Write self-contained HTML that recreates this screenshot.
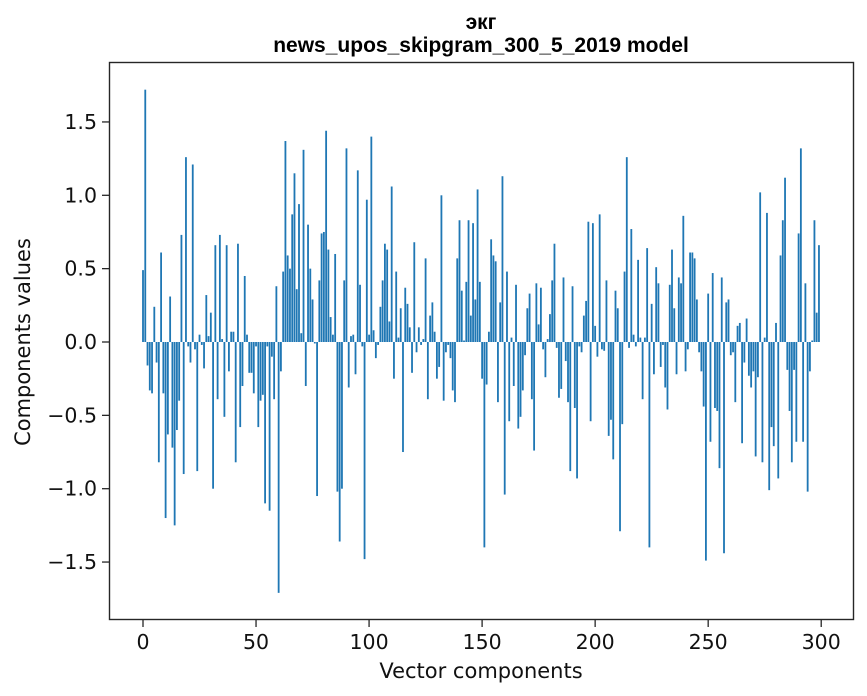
<!DOCTYPE html>
<html><head><meta charset="utf-8"><style>
html,body{margin:0;padding:0;background:#fff;}
svg{display:block;font-family:"DejaVu Sans","Liberation Sans",sans-serif;}
</style></head><body>
<svg id="chart" width="867" height="696" viewBox="0 0 867 696">
<rect x="0" y="0" width="867" height="696" fill="#fff"/>
<text x="481" y="29" text-anchor="middle" font-size="21" font-weight="bold" font-family="Liberation Sans, sans-serif">экг</text>
<text x="481" y="52" text-anchor="middle" font-size="21" font-weight="bold" font-family="Liberation Sans, sans-serif">news_upos_skipgram_300_5_2019 model</text>
<g id="bars"></g>
<g id="xticks"></g>
<g id="yticks"></g>
<rect x="109.5" y="62.5" width="744" height="557" fill="none" stroke="#262626" stroke-width="1.4"/>
<text x="481" y="678" text-anchor="middle" font-size="21" fill="#111">Vector components</text>
<text transform="translate(30,342) rotate(-90)" text-anchor="middle" font-size="21" fill="#111">Components values</text>
</svg>
<script>
const componentValues = [
0.49,1.72,-0.16,-0.33,-0.35,0.24,-0.14,-0.82,0.61,-0.35,
-1.2,-0.63,0.31,-0.72,-1.25,-0.6,-0.4,0.73,-0.9,1.26,
-0.03,-0.14,1.21,-0.05,-0.88,0.05,-0.02,-0.18,0.32,0.04,
0.2,-1.0,0.66,-0.39,0.73,0.02,-0.51,0.66,-0.2,0.07,
0.07,-0.82,0.67,-0.58,-0.3,0.45,0.05,-0.21,-0.21,-0.35,
-0.03,-0.58,-0.4,-0.36,-1.1,-0.03,-1.15,-0.1,-0.39,0.38,
-1.71,-0.2,0.48,1.37,0.59,0.5,0.87,1.15,0.36,0.94,
0.06,1.31,-0.3,0.8,0.5,0.29,-0.01,-1.05,0.42,0.74,
0.75,1.44,0.63,0.17,0.05,0.6,-1.02,-1.36,-1.0,0.42,
1.32,-0.31,0.04,0.05,-0.22,1.17,0.39,-0.03,-1.48,0.97,
0.05,1.4,0.08,-0.11,-0.02,0.24,0.42,0.67,0.63,0.14,
1.06,-0.25,0.48,0.03,0.23,-0.75,0.37,0.26,0.1,-0.21,
0.68,-0.07,0.1,-0.02,0.02,0.57,-0.39,0.18,0.27,0.07,
-0.25,-0.17,1.0,-0.4,-0.07,-0.02,-0.11,-0.33,-0.41,0.57,
0.83,0.35,0.01,0.41,0.83,0.18,0.81,0.29,1.04,0.41,
-0.25,-1.4,-0.29,0.07,0.7,0.59,0.55,-0.41,0.27,1.13,
-1.04,0.48,-0.54,0.03,-0.3,0.39,-0.59,-0.51,-0.33,-0.09,
0.23,0.33,-0.39,-0.74,0.4,0.12,0.37,-0.05,-0.24,0.02,
0.19,0.42,0.67,-0.04,-0.38,-0.32,0.44,-0.13,-0.41,-0.88,
0.38,-0.45,-0.93,-0.03,-0.07,0.18,0.28,0.82,-0.54,0.81,
0.11,-0.1,0.87,-0.05,-0.06,0.42,-0.64,-0.53,-0.8,0.35,
0.23,-1.29,-0.56,0.48,1.26,-0.04,0.77,0.05,-0.03,0.56,
0.03,-0.39,0.03,0.64,-1.4,0.26,-0.22,0.51,0.4,-0.17,
-0.02,-0.31,-0.46,0.39,0.63,0.23,-0.22,0.44,0.4,0.86,
-0.2,-0.05,0.61,0.61,0.57,0.29,-0.07,-0.2,-0.44,-1.49,
0.33,-0.68,0.47,-0.45,-0.47,-0.86,0.44,-1.44,0.27,0.29,
-0.09,-0.07,-0.41,0.11,0.13,-0.69,-0.14,0.16,-0.23,-0.31,
-0.2,-0.78,-0.24,1.02,-0.82,0.03,0.88,-1.01,-0.58,-0.71,
0.13,-0.93,0.59,0.83,1.12,-0.19,-0.47,-0.82,-0.19,-0.68,
0.74,1.32,-0.68,0.4,-1.02,-0.2,0.01,0.83,0.2,0.66
];
const xTickValues = [0,50,100,150,200,250,300];
const yTickValues = [-1.5,-1.0,-0.5,0.0,0.5,1.0,1.5];
const yTickLabels = ["\u22121.5","\u22121.0","\u22120.5","0.0","0.5","1.0","1.5"];

const NS = "http://www.w3.org/2000/svg";
function xScale(v){ return 143 + 2.2607 * v; }
function yScale(v){ return 342 - 146.7 * v; }

const barsG = document.getElementById('bars');
componentValues.forEach(function(v, i){
  const r = document.createElementNS(NS, 'rect');
  const y0 = yScale(0), y1 = yScale(v);
  r.setAttribute('x', (xScale(i) - 0.9).toFixed(2));
  r.setAttribute('width', '1.81');
  r.setAttribute('y', Math.min(y0, y1).toFixed(2));
  r.setAttribute('height', Math.max(Math.abs(y1 - y0), 0.3).toFixed(2));
  r.setAttribute('fill', '#1f77b4');
  
  
  barsG.appendChild(r);
});

const xg = document.getElementById('xticks');
xTickValues.forEach(function(v){
  const x = xScale(v);
  const l = document.createElementNS(NS, 'line');
  l.setAttribute('x1', x); l.setAttribute('x2', x);
  l.setAttribute('y1', 620); l.setAttribute('y2', 627);
  l.setAttribute('stroke', '#262626'); l.setAttribute('stroke-width', '1.3');
  
  
  xg.appendChild(l);
  const t = document.createElementNS(NS, 'text');
  t.setAttribute('x', x); t.setAttribute('y', 649);
  t.setAttribute('text-anchor', 'middle'); t.setAttribute('font-size', '20.5');
  t.setAttribute('fill', '#111');
  t.textContent = String(v);
  
  
  xg.appendChild(t);
});

const yg = document.getElementById('yticks');
yTickValues.forEach(function(v, i){
  const y = yScale(v);
  const l = document.createElementNS(NS, 'line');
  l.setAttribute('x1', 102); l.setAttribute('x2', 109);
  l.setAttribute('y1', y); l.setAttribute('y2', y);
  l.setAttribute('stroke', '#262626'); l.setAttribute('stroke-width', '1.3');
  
  
  yg.appendChild(l);
  const t = document.createElementNS(NS, 'text');
  t.setAttribute('x', 97); t.setAttribute('y', y + 7);
  t.setAttribute('text-anchor', 'end'); t.setAttribute('font-size', '20.5');
  t.setAttribute('fill', '#111');
  t.textContent = yTickLabels[i];
  
  
  yg.appendChild(t);
});
</script>
</body></html>
